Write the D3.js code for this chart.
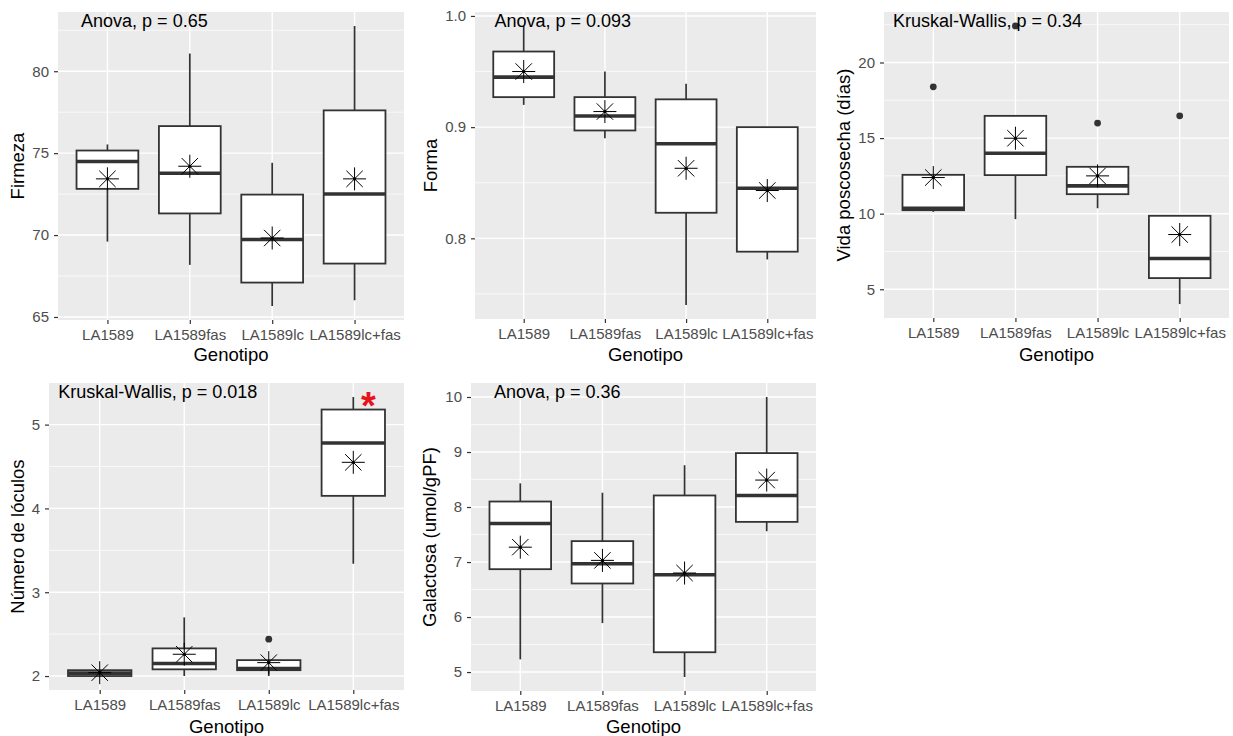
<!DOCTYPE html>
<html>
<head>
<meta charset="utf-8">
<script src="https://cdn.jsdelivr.net/npm/d3@7"></script>
<style>
  body { margin: 0; background: #fff; }
  text { font-family: "Liberation Sans", Arial, sans-serif; }
</style>
</head>
<body>
<div id="chart"></div>
<script>
// categorias
var genotipos = ["LA1589", "LA1589fas", "LA1589lc", "LA1589lc+fas"];

// Firmeza
var firmezaLower = [69.6, 68.18, 65.67, 66.02];
var firmezaQ1 = [72.82, 71.32, 67.1, 68.26];
var firmezaMed = [74.49, 73.77, 69.73, 72.51];
var firmezaQ3 = [75.16, 76.65, 72.47, 77.61];
var firmezaUpper = [75.53, 81.08, 74.41, 82.76];
var firmezaMean = [73.43, 74.2, 69.82, 73.43];
var firmezaOut = [[], [], [], []];
var firmezaTicks = [65, 70, 75, 80];

// Forma
var formaLower = [0.920, 0.890, 0.740, 0.781];
var formaQ1 = [0.927, 0.897, 0.823, 0.788];
var formaMed = [0.945, 0.910, 0.885, 0.845];
var formaQ3 = [0.968, 0.927, 0.925, 0.900];
var formaUpper = [0.991, 0.950, 0.939, 0.900];
var formaMean = [0.950, 0.914, 0.863, 0.843];
var formaOut = [[], [], [], []];
var formaTicks = [0.8, 0.9, 1.0];

// Vida poscosecha
var vidaLower = [10.12, 9.64, 10.36, 4.02];
var vidaQ1 = [10.23, 12.55, 11.29, 5.74];
var vidaMed = [10.36, 14.0, 11.84, 7.04];
var vidaQ3 = [12.57, 16.47, 13.1, 9.86];
var vidaUpper = [12.57, 16.47, 13.1, 9.86];
var vidaMean = [12.39, 14.99, 12.5, 8.62];
var vidaOut = [[18.39], [22.42], [15.99], [16.47]];
var vidaTicks = [5, 10, 15, 20];

// Numero de loculos
var loculosLower = [2.0, 2.0, 2.0, 3.34];
var loculosQ1 = [2.0, 2.08, 2.07, 4.15];
var loculosMed = [2.035, 2.15, 2.09, 4.78];
var loculosQ3 = [2.07, 2.33, 2.19, 5.18];
var loculosUpper = [2.07, 2.70, 2.19, 5.33];
var loculosMean = [2.04, 2.26, 2.16, 4.55];
var loculosOut = [[], [], [2.44], []];
var loculosTicks = [2, 3, 4, 5];

// Galactosa
var galLower = [5.23, 5.89, 4.91, 7.56];
var galQ1 = [6.87, 6.61, 5.36, 7.73];
var galMed = [7.70, 6.97, 6.77, 8.21];
var galQ3 = [8.10, 7.38, 8.21, 8.98];
var galUpper = [8.43, 8.26, 8.76, 10.0];
var galMean = [7.27, 7.03, 6.80, 8.49];
var galOut = [[], [], [], []];
var galTicks = [5, 6, 7, 8, 9, 10];

var width = 1233, height = 736;

var svg = d3.select("#chart").append("svg")
  .attr("width", width)
  .attr("height", height);

svg.append("rect").attr("width", width).attr("height", height).attr("fill", "#fff");

var panels = [
  {ytitle: "Firmeza", test: "Anova, p = 0.65", labX: 0.68,
   lower: firmezaLower, q1: firmezaQ1, med: firmezaMed, q3: firmezaQ3, upper: firmezaUpper,
   mean: firmezaMean, out: firmezaOut, ticks: firmezaTicks, fmt: d3.format("d"),
   left: 58, right: 404, top: 12, bottom: 320, ytX: 24, xtY: 361},
  {ytitle: "Forma", test: "Anova, p = 0.093", labX: 0.64,
   lower: formaLower, q1: formaQ1, med: formaMed, q3: formaQ3, upper: formaUpper,
   mean: formaMean, out: formaOut, ticks: formaTicks, fmt: d3.format(".1f"),
   left: 475, right: 816, top: 12, bottom: 319, ytX: 437, xtY: 361},
  {ytitle: "Vida poscosecha (días)", test: "Kruskal-Wallis, p = 0.34", labX: 0.51,
   lower: vidaLower, q1: vidaQ1, med: vidaMed, q3: vidaQ3, upper: vidaUpper,
   mean: vidaMean, out: vidaOut, ticks: vidaTicks, fmt: d3.format("d"),
   left: 884, right: 1229, top: 12, bottom: 318, ytX: 850, xtY: 361},
  {ytitle: "Número de lóculos", test: "Kruskal-Wallis, p = 0.018", labX: 0.51,
   lower: loculosLower, q1: loculosQ1, med: loculosMed, q3: loculosQ3, upper: loculosUpper,
   mean: loculosMean, out: loculosOut, ticks: loculosTicks, fmt: d3.format("d"),
   left: 49, right: 404, top: 383, bottom: 690, ytX: 24, xtY: 733, signif: 4.18},
  {ytitle: "Galactosa (umol/gPF)", test: "Anova, p = 0.36", labX: 0.68,
   lower: galLower, q1: galQ1, med: galMed, q3: galQ3, upper: galUpper,
   mean: galMean, out: galOut, ticks: galTicks, fmt: d3.format("d"),
   left: 471, right: 816, top: 383, bottom: 691, ytX: 436, xtY: 733}
];

panels.forEach(function(p) {
  var g = svg.append("g");
  var idx = d3.range(genotipos.length);

  var allVals = p.lower.concat(p.upper, d3.merge(p.out));
  var lo = d3.min(allVals), hi = d3.max(allVals), pad = (hi - lo) * 0.05;

  var x = d3.scaleLinear().domain([0.4, 4.6]).range([p.left, p.right]);
  var y = d3.scaleLinear().domain([lo - pad, hi + pad]).range([p.bottom, p.top]);

  // panel background
  g.append("rect")
    .attr("x", p.left).attr("y", p.top)
    .attr("width", p.right - p.left).attr("height", p.bottom - p.top)
    .attr("fill", "#EBEBEB");

  // minor grid
  var step = p.ticks[1] - p.ticks[0];
  var minors = d3.range(p.ticks[0] - step / 2, p.ticks[p.ticks.length - 1] + step, step)
    .filter(function(v) { return v > lo - pad && v < hi + pad; });
  g.selectAll(".minor").data(minors).enter().append("line")
    .attr("x1", p.left).attr("x2", p.right)
    .attr("y1", function(d) { return y(d); }).attr("y2", function(d) { return y(d); })
    .attr("stroke", "#fff").attr("stroke-width", 0.7);

  // major grid
  g.selectAll(".hmajor").data(p.ticks).enter().append("line")
    .attr("x1", p.left).attr("x2", p.right)
    .attr("y1", function(d) { return y(d); }).attr("y2", function(d) { return y(d); })
    .attr("stroke", "#fff").attr("stroke-width", 1.4);
  g.selectAll(".vmajor").data(idx).enter().append("line")
    .attr("x1", function(i) { return x(i + 1); }).attr("x2", function(i) { return x(i + 1); })
    .attr("y1", p.top).attr("y2", p.bottom)
    .attr("stroke", "#fff").attr("stroke-width", 1.4);

  // axes
  var yAxis = g.append("g")
    .attr("transform", "translate(" + p.left + ",0)")
    .call(d3.axisLeft(y).tickValues(p.ticks).tickFormat(p.fmt).tickSize(4).tickPadding(5));
  var xAxis = g.append("g")
    .attr("transform", "translate(0," + p.bottom + ")")
    .call(d3.axisBottom(x).tickValues([1, 2, 3, 4])
      .tickFormat(function(d) { return genotipos[d - 1]; }).tickSize(4).tickPadding(5));
  [xAxis, yAxis].forEach(function(a) {
    a.select(".domain").remove();
    a.selectAll(".tick line").attr("stroke", "#333").attr("stroke-width", 1.2);
    a.selectAll(".tick text").attr("fill", "#4D4D4D").attr("font-size", "15px")
      .attr("font-family", "Liberation Sans, Arial, sans-serif");
  });

  var bw = 0.75 / 2;

  // whiskers
  g.selectAll(".whisk").data(idx).enter().append("line")
    .attr("x1", function(i) { return x(i + 1); }).attr("x2", function(i) { return x(i + 1); })
    .attr("y1", function(i) { return y(p.lower[i]); })
    .attr("y2", function(i) { return y(p.upper[i]); })
    .attr("stroke", "#333").attr("stroke-width", 1.7);

  // boxes
  g.selectAll(".box").data(idx).enter().append("rect")
    .attr("x", function(i) { return x(i + 1 - bw); })
    .attr("width", function(i) { return x(i + 1 + bw) - x(i + 1 - bw); })
    .attr("y", function(i) { return y(p.q3[i]); })
    .attr("height", function(i) { return y(p.q1[i]) - y(p.q3[i]); })
    .attr("fill", "#fff").attr("stroke", "#333").attr("stroke-width", 1.8);

  // medians
  g.selectAll(".med").data(idx).enter().append("line")
    .attr("x1", function(i) { return x(i + 1 - bw); })
    .attr("x2", function(i) { return x(i + 1 + bw); })
    .attr("y1", function(i) { return y(p.med[i]); })
    .attr("y2", function(i) { return y(p.med[i]); })
    .attr("stroke", "#333").attr("stroke-width", 3.6);

  // outliers
  idx.forEach(function(i) {
    g.selectAll(null).data(p.out[i]).enter().append("circle")
      .attr("cx", x(i + 1)).attr("cy", function(d) { return y(d); })
      .attr("r", 3.4).attr("fill", "#333");
  });

  // means (asterisk)
  g.selectAll(".mean").data(idx).enter().append("path")
    .attr("d", function(i) {
      var cx = x(i + 1), cy = y(p.mean[i]), r = 11.5, s = 8.2;
      return "M" + (cx - r) + "," + cy + "H" + (cx + r) +
        "M" + cx + "," + (cy - r) + "V" + (cy + r) +
        "M" + (cx - s) + "," + (cy - s) + "L" + (cx + s) + "," + (cy + s) +
        "M" + (cx - s) + "," + (cy + s) + "L" + (cx + s) + "," + (cy - s);
    })
    .attr("stroke", "#000").attr("stroke-width", 1).attr("fill", "none");
  g.selectAll(".mdot").data(idx).enter().append("circle")
    .attr("cx", function(i) { return x(i + 1); })
    .attr("cy", function(i) { return y(p.mean[i]); })
    .attr("r", 1.6).attr("fill", "#000");

  // test label
  g.append("text")
    .attr("x", x(p.labX)).attr("y", y(hi) + 1)
    .attr("font-size", "18px").attr("fill", "#000")
    .text(p.test);

  if (p.signif) {
    g.append("text")
      .attr("x", x(p.signif)).attr("y", y(hi) + 22)
      .attr("text-anchor", "middle")
      .attr("font-size", "38px").attr("font-weight", "bold").attr("fill", "#E8141C")
      .text("*");
  }

  // axis titles
  g.append("text")
    .attr("x", (p.left + p.right) / 2).attr("y", p.xtY)
    .attr("text-anchor", "middle").attr("font-size", "18.5px").attr("fill", "#000")
    .text("Genotipo");
  g.append("text")
    .attr("transform", "translate(" + p.ytX + "," + ((p.top + p.bottom) / 2) + ") rotate(-90)")
    .attr("text-anchor", "middle").attr("font-size", "18.5px").attr("fill", "#000")
    .text(p.ytitle);
});
</script>
</body>
</html>
